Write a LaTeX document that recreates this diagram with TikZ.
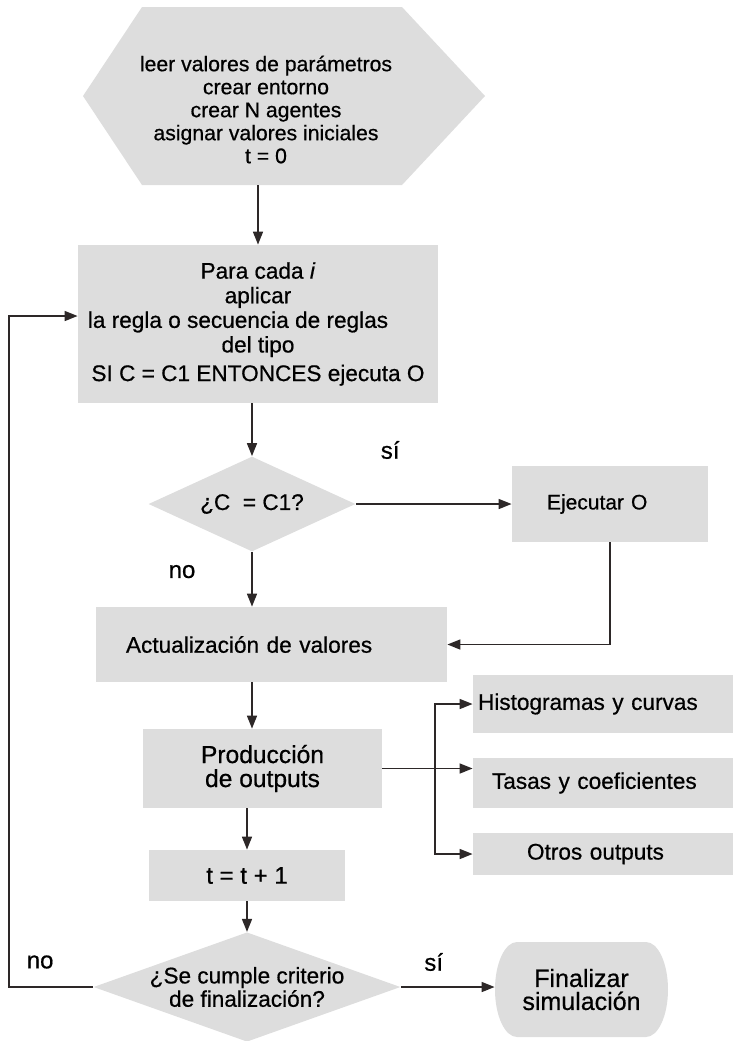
\documentclass[tikz,border=0pt]{standalone}
\usepackage{fontspec}
\setmainfont{Liberation Sans}[FakeBold=0.6]
\usetikzlibrary{arrows.meta,shapes.geometric}
\definecolor{gris}{RGB}{221,221,221}
\definecolor{linea}{RGB}{45,40,40}

\begin{document}
\begin{tikzpicture}[x=0.5pt,y=-0.5pt,
  caja/.style={fill=gris, inner sep=0pt, align=center, font=\fontsize{11.3}{12}\selectfont},
  rombo/.style={diamond, fill=gris, inner sep=0pt, align=center, font=\fontsize{11.3}{10}\selectfont},
  flecha/.style={draw=linea, line width=0.8pt, -{Triangle[length=6.5pt,width=5pt]}},
  etiq/.style={font=\fontsize{12}{12}\selectfont}]
\useasboundingbox (0,0) rectangle (733,1041);

% formas de inicio y fin
\fill[gris] (83,96) -- (142,7) -- (402,7) -- (485,96) -- (402,185) -- (142,185) -- cycle;
\fill[gris] (517,942) -- (646,942) .. controls (658,942) and (668,963) .. (668,989.5)
  .. controls (668,1016) and (658,1037) .. (646,1037) -- (517,1037)
  .. controls (505,1037) and (495,1016) .. (495,989.5)
  .. controls (495,963) and (505,942) .. (517,942) -- cycle;

\draw (266,109.5) node (10) [minimum height=75.5pt, align=center, font=\fontsize{10.6}{11.5}\selectfont]
  {leer valores de parámetros\\ crear entorno\\ crear N agentes\\ asignar valores iniciales\\ t = 0};

\draw (258,324) node (20) [caja, minimum width=180pt, minimum height=79pt, font=\fontsize{11.3}{12.3}\selectfont]
  {Para cada \textit{i}\\ aplicar\\ la regla o secuencia de reglas\rule{20pt}{0pt}\\ del tipo\\[2pt] SI C = C1 ENTONCES ejecuta O};

\draw (252,504) node (30) [rombo, aspect=2.2, minimum width=103.5pt, minimum height=47.5pt] {¿C\ \ = C1?};
\draw (610,504) node (31) [caja, align=left, inner xsep=17.5pt, text width=63pt, minimum height=38pt,
  font=\fontsize{10.5}{12}\selectfont] {Ejecutar O};

\draw (271.5,644.5) node (40) [caja, align=left, inner xsep=15pt, text width=145.5pt, minimum height=37.5pt]
  {Actualización de valores};

\draw (262.5,768.5) node (50) [caja, minimum width=119.5pt, minimum height=39.5pt,
  font=\fontsize{12.3}{12}\selectfont] {Producción\\ de outputs};
\draw (603,704) node (51) [caja, align=left, inner xsep=2.5pt, text width=125pt, minimum height=29pt] {Histogramas y curvas};
\draw (603,783) node (52) [caja, align=left, inner xsep=9.5pt, text width=111pt, minimum height=25pt] {Tasas y coeficientes};
\draw (603,854) node (53) [caja, align=left, inner xsep=27pt, text width=76pt, minimum height=21pt] {Otros outputs};

\draw (247,875.5) node (60) [caja, minimum width=98pt, minimum height=25.5pt, font=\fontsize{12}{12}\selectfont] {t = t + 1};

\draw (247,987) node (70) [rombo, aspect=2.8, minimum width=153.5pt, minimum height=54pt] {¿Se cumple criterio\\ de finalización?};
\draw (581.5,989.5) node (71) [minimum width=86.5pt, minimum height=47.5pt, align=center,
  font=\fontsize{12.5}{11.5}\selectfont] {Finalizar\\ simulación};

% conexiones
\draw[flecha] (10.south -| 20.north) -- (20.north);
\draw[flecha] (20.south -| 30.north) -- (30.north);
\draw[flecha] (30.east) -- node (32) [etiq, pos=0.22, yshift=27pt] {sí} (31.west);
\draw[flecha] (30.south) -- node (33) [etiq, pos=0.36, xshift=-35pt] {no} (30.south |- 40.north);
\draw[flecha] (31.south) |- (40.east);
\draw[flecha] (40.south -| 30.south) -- (50.north -| 30.south);
\draw[flecha] (50.east) -- (50.east -| 52.west);
\coordinate (bus) at (50.east -| 435,0);
\draw[flecha] (bus) |- (51.west);
\draw[flecha] (bus) |- (53.west);
\draw[flecha] (50.south -| 60.north) -- (60.north);
\draw[flecha] (60.south) -- (70.north);
\draw[flecha] (70.east) -- node (72) [etiq, pos=0.35, yshift=12.5pt] {sí} (70.east -| 71.west);
\coordinate (vuelta) at (9,0);
\draw[flecha] (70.west) -- node (73) [etiq, pos=0.63, yshift=12.5pt] {no} (70.west -| vuelta) |- ([yshift=4pt]20.west);
\end{tikzpicture}
\end{document}
